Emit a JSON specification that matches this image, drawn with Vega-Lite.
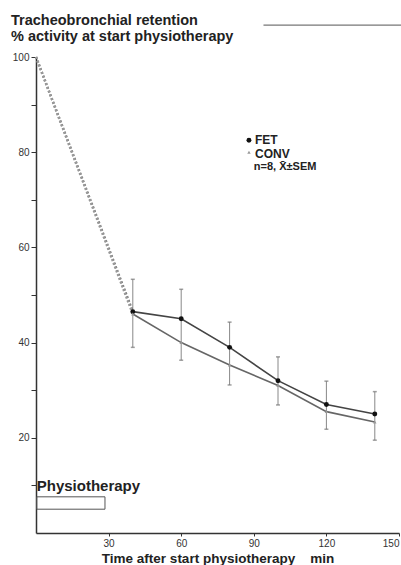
{
  "$schema": "https://vega.github.io/schema/vega-lite/v6.json",
  "width": 363,
  "height": 476,
  "autosize": "none",
  "padding": {"left": 36, "top": 57, "right": 2, "bottom": 32},
  "background": "white",
  "config": {
    "font": "Liberation Sans",
    "view": {"stroke": null},
    "axis": {"grid": false, "domainColor": "#333", "tickColor": "#333", "labelColor": "#333", "labelFont": "Liberation Sans", "titleFont": "Liberation Sans"}
  },
  "title": {
    "text": ["Tracheobronchial retention", "% activity at start physiotherapy"],
    "anchor": "start",
    "frame": "group",
    "dx": -25,
    "fontSize": 14.5,
    "fontWeight": "bold",
    "color": "#222",
    "lineHeight": 16,
    "offset": -20
  },
  "datasets": {
    "series": [
      {"series": "FET", "time": 0, "value": 100},
      {"series": "FET", "time": 40, "value": 46.5},
      {"series": "FET", "time": 60, "value": 45},
      {"series": "FET", "time": 80, "value": 39},
      {"series": "FET", "time": 100, "value": 32},
      {"series": "FET", "time": 120, "value": 27},
      {"series": "FET", "time": 140, "value": 25},
      {"series": "CONV", "time": 0, "value": 100},
      {"series": "CONV", "time": 40, "value": 46},
      {"series": "CONV", "time": 60, "value": 40},
      {"series": "CONV", "time": 80, "value": 35.3},
      {"series": "CONV", "time": 100, "value": 31},
      {"series": "CONV", "time": 120, "value": 25.5},
      {"series": "CONV", "time": 140, "value": 23.3}
    ],
    "errors": [
      {"time": 40, "low": 39, "high": 53.3},
      {"time": 60, "low": 36.3, "high": 51.2},
      {"time": 80, "low": 31.1, "high": 44.3},
      {"time": 100, "low": 26.9, "high": 37},
      {"time": 120, "low": 21.8, "high": 31.9},
      {"time": 140, "low": 19.5, "high": 29.7}
    ],
    "legend": [
      {"label": "FET", "time": 90.5, "value": 82.5},
      {"label": "CONV", "time": 90.5, "value": 79.7}
    ],
    "legendsub": [
      {"label": "n=8, X̄±SEM", "time": 90, "value": 76.8}
    ],
    "symbols": [
      {"series": "FET", "time": 88, "value": 82.5},
      {"series": "CONV", "time": 88, "value": 80}
    ],
    "box": [{"label": "Physiotherapy", "start": 0.3, "end": 28.5, "low": 5, "high": 7.6, "texty": 9.8}],
    "stray": [{"start": 94, "end": 151, "value": 106.7}]
  },
  "layer": [
    {
      "data": {"name": "errors"},
      "mark": {"type": "rule", "color": "#888", "strokeWidth": 1},
      "encoding": {
        "x": {"field": "time", "type": "quantitative", "scale": {"domain": [0, 150], "nice": false},
          "axis": {"values": [30, 60, 90, 120, 150], "tickSize": 3, "labelFontSize": 10, "labelPadding": 2, "title": "Time after start physiotherapy\u00a0\u00a0\u00a0\u00a0min", "titleFontSize": 13.5, "titleFontWeight": "bold", "titlePadding": 3, "titleColor": "#222", "domainWidth": 1.5}},
        "y": {"field": "low", "type": "quantitative", "scale": {"domain": [0, 100], "nice": false},
          "axis": {"values": [10, 20, 30, 40, 50, 60, 70, 80, 90, 100], "labelExpr": "datum.value % 20 == 0 ? datum.label : ''", "tickSize": 5, "labelFontSize": 10, "labelPadding": 2, "title": null, "domainWidth": 1.5}},
        "y2": {"field": "high"}
      }
    },
    {
      "data": {"name": "errors"},
      "mark": {"type": "tick", "orient": "horizontal", "color": "#777", "size": 4, "thickness": 1.5},
      "encoding": {
        "x": {"field": "time", "type": "quantitative"},
        "y": {"field": "low", "type": "quantitative"}
      }
    },
    {
      "data": {"name": "errors"},
      "mark": {"type": "tick", "orient": "horizontal", "color": "#777", "size": 4, "thickness": 1.5},
      "encoding": {
        "x": {"field": "time", "type": "quantitative"},
        "y": {"field": "high", "type": "quantitative"}
      }
    },
    {
      "data": {"name": "series"},
      "transform": [{"filter": "datum.time <= 40"}],
      "mark": {"type": "line", "strokeDash": [2, 2], "strokeWidth": 2.5},
      "encoding": {
        "x": {"field": "time", "type": "quantitative"},
        "y": {"field": "value", "type": "quantitative"},
        "detail": {"field": "series"},
        "color": {"condition": {"test": "datum.series == 'FET'", "value": "#777"}, "value": "#999"}
      }
    },
    {
      "data": {"name": "series"},
      "transform": [{"filter": "datum.time >= 40"}],
      "mark": {"type": "line", "strokeWidth": 1.6},
      "encoding": {
        "x": {"field": "time", "type": "quantitative"},
        "y": {"field": "value", "type": "quantitative"},
        "detail": {"field": "series"},
        "color": {"condition": {"test": "datum.series == 'FET'", "value": "#444"}, "value": "#666"}
      }
    },
    {
      "data": {"name": "series"},
      "transform": [{"filter": "datum.time >= 40"}],
      "mark": {"type": "point", "filled": true, "opacity": 1, "clip": false},
      "encoding": {
        "x": {"field": "time", "type": "quantitative"},
        "y": {"field": "value", "type": "quantitative"},
        "shape": {"field": "series", "type": "nominal", "scale": {"domain": ["FET", "CONV"], "range": ["circle", "triangle-up"]}, "legend": null},
        "size": {"field": "series", "type": "nominal", "scale": {"domain": ["FET", "CONV"], "range": [24, 12]}, "legend": null},
        "color": {"condition": {"test": "datum.series == 'FET'", "value": "#111"}, "value": "#999"}
      }
    },
    {
      "data": {"name": "symbols"},
      "mark": {"type": "point", "filled": true, "opacity": 1},
      "encoding": {
        "x": {"field": "time", "type": "quantitative"},
        "y": {"field": "value", "type": "quantitative"},
        "shape": {"field": "series", "type": "nominal", "legend": null},
        "size": {"field": "series", "type": "nominal", "legend": null},
        "color": {"condition": {"test": "datum.series == 'FET'", "value": "#111"}, "value": "#999"}
      }
    },
    {
      "data": {"name": "legend"},
      "mark": {"type": "text", "align": "left", "baseline": "middle", "color": "#222", "fontSize": 12, "fontWeight": "bold"},
      "encoding": {
        "x": {"field": "time", "type": "quantitative"},
        "y": {"field": "value", "type": "quantitative"},
        "text": {"field": "label"}
      }
    },
    {
      "data": {"name": "legendsub"},
      "mark": {"type": "text", "align": "left", "baseline": "middle", "color": "#222", "fontSize": 11, "fontWeight": "bold"},
      "encoding": {
        "x": {"field": "time", "type": "quantitative"},
        "y": {"field": "value", "type": "quantitative"},
        "text": {"field": "label"}
      }
    },
    {
      "data": {"name": "box"},
      "mark": {"type": "rect", "fill": null, "stroke": "#555", "strokeWidth": 1},
      "encoding": {
        "x": {"field": "start", "type": "quantitative"},
        "x2": {"field": "end"},
        "y": {"field": "low", "type": "quantitative"},
        "y2": {"field": "high"}
      }
    },
    {
      "data": {"name": "box"},
      "mark": {"type": "text", "align": "left", "baseline": "middle", "fontSize": 15, "fontWeight": "bold", "color": "#222"},
      "encoding": {
        "x": {"field": "start", "type": "quantitative"},
        "y": {"field": "texty", "type": "quantitative"},
        "text": {"field": "label"}
      }
    },
    {
      "data": {"name": "stray"},
      "mark": {"type": "rule", "color": "#555", "strokeWidth": 1, "clip": false},
      "encoding": {
        "x": {"field": "start", "type": "quantitative"},
        "x2": {"field": "end"},
        "y": {"field": "value", "type": "quantitative"}
      }
    }
  ]
}
